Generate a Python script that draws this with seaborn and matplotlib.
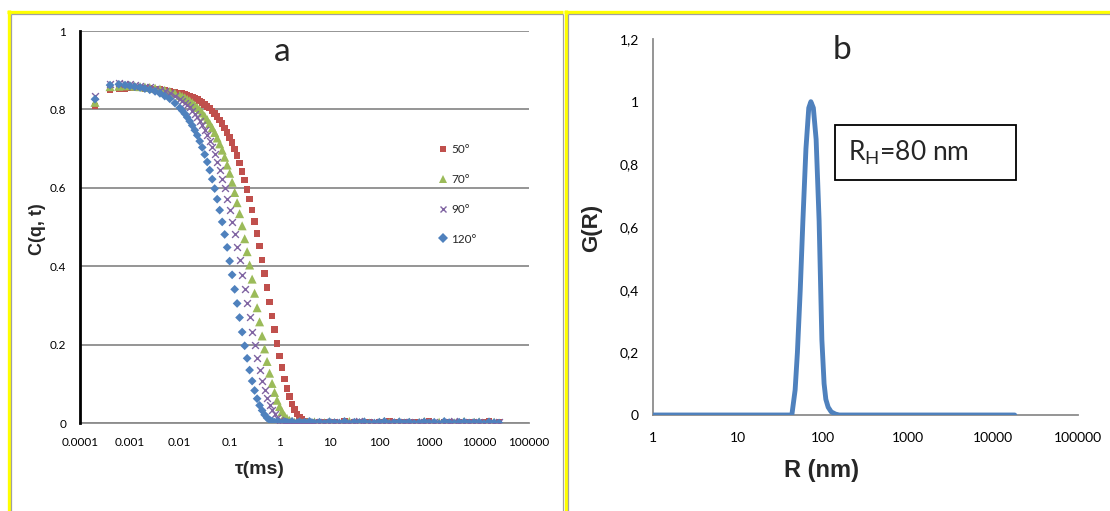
import matplotlib
matplotlib.use("Agg")
import matplotlib.pyplot as plt
from matplotlib.lines import Line2D
import numpy as np
import pandas as pd
import seaborn as sns

sns.set_theme(style="white")
plt.rcParams["font.family"] = ["Lato", "DejaVu Sans"]
plt.rcParams["mathtext.fontset"] = "custom"
plt.rcParams["mathtext.rm"] = "Lato"

BOLD_FAMILY = ["Liberation Sans", "DejaVu Sans"]

# ---- panel a: intensity correlation functions at four scattering angles ----
tau_ms = [
    0.0002, 0.0004, 0.0006, 0.0008, 0.001,
    0.00125, 0.0016, 0.002, 0.0025, 0.0032, 0.004, 0.005, 0.0063, 0.008, 0.01,
    0.0112, 0.0126, 0.0141, 0.0158, 0.0178, 0.02, 0.0224, 0.0251, 0.0282, 0.0316,
    0.0355, 0.0398, 0.0447, 0.0501, 0.0562, 0.0631, 0.0708, 0.0794, 0.0891, 0.1,
    0.112, 0.126, 0.141, 0.158, 0.178, 0.2, 0.224, 0.251, 0.282, 0.316,
    0.355, 0.398, 0.447, 0.501, 0.562, 0.631, 0.708, 0.794, 0.891, 1.0,
    1.12, 1.26, 1.41, 1.58, 1.78, 2.0, 2.24, 2.51, 2.82, 3.16, 3.55, 3.98, 4.47, 5.01,
    6.31, 7.94, 10, 12.6, 15.8, 20, 25.1, 31.6, 39.8, 50.1,
    63.1, 79.4, 100, 126, 158, 200, 251, 316, 398, 501,
    631, 794, 1000, 1260, 1580, 2000, 2510, 3160, 3980, 5010,
    6310, 7940, 10000, 12600, 15800, 20000, 25100,
]

c_50 = [
    0.809, 0.851, 0.852, 0.853, 0.854,
    0.854, 0.854, 0.853, 0.853, 0.852, 0.851, 0.849, 0.847, 0.845, 0.842,
    0.841, 0.839, 0.837, 0.834, 0.832, 0.829, 0.826, 0.822, 0.818, 0.813,
    0.808, 0.803, 0.796, 0.790, 0.782, 0.773, 0.764, 0.753, 0.741, 0.728,
    0.715, 0.699, 0.682, 0.663, 0.642, 0.620, 0.596, 0.571, 0.543, 0.514,
    0.483, 0.451, 0.416, 0.382, 0.346, 0.309, 0.273, 0.238, 0.203, 0.171,
    0.141, 0.112, 0.088, 0.067, 0.048, 0.034, 0.023, 0.015, 0.009, 0.005, 0.003, 0.001, 0.002, -0.001,
    0.001, 0.003, -0.002, 0.002, 0.000, 0.004, -0.001, 0.002, 0.001, -0.002,
    0.003, 0.000, 0.002, -0.001, 0.004, 0.001, -0.002, 0.002, 0.000, 0.003,
    -0.001, 0.002, 0.004, 0.000, -0.002, 0.001, 0.003, -0.001, 0.002, 0.000,
    0.003, 0.001, -0.002, 0.002, 0.004, 0.000, 0.001,
]

c_70 = [
    0.818, 0.858, 0.859, 0.860, 0.861,
    0.859, 0.858, 0.857, 0.856, 0.854, 0.852, 0.849, 0.846, 0.841, 0.836,
    0.833, 0.830, 0.826, 0.822, 0.817, 0.811, 0.805, 0.799, 0.791, 0.783,
    0.774, 0.764, 0.753, 0.741, 0.727, 0.712, 0.696, 0.678, 0.658, 0.637,
    0.614, 0.588, 0.562, 0.534, 0.503, 0.470, 0.437, 0.403, 0.367, 0.331,
    0.294, 0.258, 0.222, 0.189, 0.157, 0.127, 0.101, 0.078, 0.058, 0.042,
    0.029, 0.019, 0.012, 0.007, 0.004, 0.002, -0.001, 0.003, 0.000, -0.002, 0.002, 0.001, -0.001, 0.003,
    -0.002, 0.001, 0.003, 0.000, -0.001, 0.002, 0.004, -0.002, 0.001, 0.003,
    0.000, -0.002, 0.002, 0.004, 0.001, -0.001, 0.003, 0.000, 0.002, -0.002,
    0.001, 0.004, 0.000, -0.001, 0.002, 0.003, -0.002, 0.001, 0.000, 0.004,
    -0.001, 0.002, 0.003, -0.002, 0.001, 0.002, -0.001,
]

c_90 = [
    0.833, 0.866, 0.867, 0.865, 0.864,
    0.861, 0.860, 0.858, 0.856, 0.853, 0.850, 0.846, 0.841, 0.834, 0.827,
    0.822, 0.817, 0.811, 0.805, 0.797, 0.789, 0.780, 0.771, 0.760, 0.748,
    0.734, 0.720, 0.703, 0.686, 0.667, 0.646, 0.623, 0.599, 0.572, 0.544,
    0.514, 0.482, 0.449, 0.415, 0.378, 0.342, 0.306, 0.270, 0.233, 0.199,
    0.166, 0.136, 0.108, 0.084, 0.063, 0.046, 0.032, 0.022, 0.014, 0.008,
    0.005, 0.002, 0.000, 0.003, -0.001, 0.002, 0.001, -0.002, 0.003, 0.000, 0.002, -0.001, 0.001, 0.003,
    0.000, 0.002, -0.001, 0.003, 0.001, -0.002, 0.002, 0.000, 0.004, -0.001,
    0.001, 0.003, -0.002, 0.000, 0.002, 0.001, -0.001, 0.003, 0.002, 0.000,
    -0.002, 0.002, 0.001, 0.003, -0.001, 0.000, 0.002, 0.004, -0.002, 0.001,
    0.002, -0.001, 0.003, 0.000, 0.001, -0.002, 0.002,
]

c_120 = [
    0.826, 0.862, 0.864, 0.862, 0.860,
    0.858, 0.856, 0.853, 0.850, 0.846, 0.841, 0.834, 0.827, 0.816, 0.804,
    0.797, 0.789, 0.780, 0.770, 0.759, 0.747, 0.734, 0.719, 0.703, 0.685,
    0.666, 0.645, 0.622, 0.598, 0.571, 0.543, 0.513, 0.481, 0.448, 0.413,
    0.378, 0.341, 0.305, 0.269, 0.232, 0.197, 0.165, 0.135, 0.107, 0.083,
    0.062, 0.045, 0.032, 0.021, 0.013, 0.008, 0.005, 0.002, 0.004, 0.001,
    -0.001, 0.003, 0.002, 0.000, 0.004, -0.002, 0.001, 0.003, 0.000, 0.002, -0.001, 0.004, 0.001, 0.000,
    0.002, -0.001, 0.003, 0.001, 0.000, 0.004, -0.002, 0.002, 0.001, 0.003,
    -0.001, 0.000, 0.002, 0.004, -0.002, 0.001, 0.003, 0.000, 0.002, -0.001,
    0.001, 0.003, 0.000, 0.002, -0.002, 0.004, 0.001, -0.001, 0.002, 0.003,
    0.000, 0.001, 0.002, -0.002, 0.003, 0.001, 0.000,
]

angle_labels = ["50°", "70°", "90°", "120°"]
tau_ticks = [0.0001, 0.001, 0.01, 0.1, 1, 10, 100, 1000, 10000, 100000]
tau_tick_labels = ["0.0001", "0.001", "0.01", "0.1", "1", "10", "100", "1000", "10000", "100000"]
c_ticks = [0, 0.2, 0.4, 0.6, 0.8, 1]
c_tick_labels = ["0", "0.2", "0.4", "0.6", "0.8", "1"]

# ---- panel b: hydrodynamic radius distribution ----
radius_nm = [1, 3, 10, 30, 38, 43, 47, 50, 54, 58, 63, 68, 72, 77, 83, 90, 97,
             103, 108, 115, 125, 140, 155, 200, 500, 1000, 3000, 10000, 18000]
g_r = [0, 0, 0, 0, 0, 0, 0.08, 0.20, 0.40, 0.62, 0.85, 0.98, 1.0, 0.98, 0.88, 0.62, 0.24,
       0.10, 0.05, 0.025, 0.01, 0.003, 0, 0, 0, 0, 0, 0, 0]
r_ticks = [1, 10, 100, 1000, 10000, 100000]
r_tick_labels = ["1", "10", "100", "1000", "10000", "100000"]
g_ticks = [0, 0.2, 0.4, 0.6, 0.8, 1, 1.2]
g_tick_labels = ["0", "0,2", "0,4", "0,6", "0,8", "1", "1,2"]

W, H = 1110, 511
fig = plt.figure(figsize=(W / 100, H / 100), dpi=100)
fig.patch.set_facecolor("white")


def fx(px):
    return px / W


def fy(py):
    return 1 - py / H


def frame_line(x0, y0, x1, y1, color, lw):
    fig.add_artist(Line2D([fx(x0), fx(x1)], [fy(y0), fy(y1)], transform=fig.transFigure,
                          color=color, linewidth=lw, solid_capstyle="butt", zorder=0))


YELLOW = "#FFFF00"
FRAME_GRAY = "#A0A0A0"
# left panel frame
frame_line(7, 11.8, 563, 11.8, YELLOW, 2.4)
frame_line(8.8, 10.5, 8.8, 520, YELLOW, 2.4)
frame_line(10.5, 14.3, 563, 14.3, FRAME_GRAY, 0.9)
frame_line(11.3, 14.3, 11.3, 520, FRAME_GRAY, 0.9)
frame_line(563, 14.3, 563, 520, FRAME_GRAY, 0.9)
# right panel frame
frame_line(564, 11.8, 1120, 11.8, YELLOW, 2.4)
frame_line(565.8, 10.5, 565.8, 520, YELLOW, 2.4)
frame_line(567.5, 14.3, 1120, 14.3, FRAME_GRAY, 0.9)
frame_line(568.2, 14.3, 568.2, 520, FRAME_GRAY, 0.9)

grid_gray = "#8C8C8C"
axis_gray = "#8C8C8C"

# ---- left axes ----
axa = fig.add_axes([fx(80), fy(423), fx(529 - 80), (423 - 31) / H])
styles = [
    ("#C0504D", "s", 22, 0),
    ("#9BBB59", "^", 42, 0),
    ("#8064A2", "x", 24, 1.0),
    ("#4F81BD", "D", 20, 0),
]
series = [c_50, c_70, c_90, c_120]
for vals, (col, mk, sz, lw), lab in zip(series, styles, angle_labels):
    df = pd.DataFrame({"tau": tau_ms, "c": vals})
    sns.scatterplot(data=df, x="tau", y="c", ax=axa, color=col, marker=mk,
                    s=sz, linewidth=lw, edgecolor=col if mk == "x" else "none",
                    zorder=3, legend=False)

axa.set_xscale("log")
axa.set_xlim(1e-4, 1e5)
axa.set_ylim(0, 1)
axa.set_xticks(tau_ticks)
axa.set_xticklabels(tau_tick_labels)
axa.xaxis.set_minor_locator(matplotlib.ticker.NullLocator())
axa.set_yticks(c_ticks)
axa.set_yticklabels(c_tick_labels)
axa.set_xlabel("")
axa.set_ylabel("")
axa.yaxis.grid(True, color=grid_gray, linewidth=1.3)
axa.xaxis.grid(False)
axa.set_axisbelow(True)
for s in ["top", "right"]:
    axa.spines[s].set_visible(False)
axa.spines["left"].set_color("black")
axa.spines["left"].set_linewidth(2.0)
axa.spines["left"].set_zorder(4)
axa.spines["bottom"].set_color(axis_gray)
axa.spines["bottom"].set_linewidth(1.3)
axa.tick_params(axis="x", length=4, width=1, color=axis_gray, direction="out",
                labelsize=8.5, pad=6, labelcolor="black")
axa.tick_params(axis="y", length=0, labelsize=8.5, pad=10, labelcolor="black")
axa.patch.set_alpha(0)

handles = [Line2D([], [], linestyle="none", marker=mk, color=col, markersize=5 if mk != "^" else 6,
                  markeredgewidth=lw if mk == "x" else 0)
           for col, mk, sz, lw in styles]
axa.legend(handles, angle_labels, loc="upper left", bbox_to_anchor=(fx(432), fy(138)),
           bbox_transform=fig.transFigure, frameon=False, fontsize=8.5,
           labelspacing=1.6, handlelength=0.8, handletextpad=0.3, borderpad=0)

fig.text(fx(282), fy(52), "a", ha="center", va="center", fontsize=24)
fig.text(fx(38), fy(229), "C(q, t)", ha="center", va="center", rotation=90,
         fontsize=13, fontweight="bold", family=BOLD_FAMILY)
fig.text(fx(260), fy(470), "τ(ms)", ha="center", va="center", fontsize=14,
         fontweight="bold", family=BOLD_FAMILY)

# ---- right axes ----
axb = fig.add_axes([fx(653), fy(415), fx(1078 - 653), (415 - 39) / H])
dfb = pd.DataFrame({"R": radius_nm, "G": g_r})
sns.lineplot(data=dfb, x="R", y="G", ax=axb, color="#4F81BD", linewidth=3.5,
             solid_capstyle="round", solid_joinstyle="round", zorder=3)
axb.set_xscale("log")
axb.set_xlim(1, 1e5)
axb.set_ylim(0, 1.2)
axb.set_xticks(r_ticks)
axb.set_xticklabels(r_tick_labels)
axb.xaxis.set_minor_locator(matplotlib.ticker.NullLocator())
axb.set_yticks(g_ticks)
axb.set_yticklabels(g_tick_labels)
axb.set_xlabel("")
axb.set_ylabel("")
axb.grid(False)
for s in ["top", "right"]:
    axb.spines[s].set_visible(False)
for s in ["left", "bottom"]:
    axb.spines[s].set_color(axis_gray)
    axb.spines[s].set_linewidth(1.3)
axb.tick_params(axis="both", length=4, width=1, color=axis_gray, direction="out",
                labelsize=10, labelcolor="black")
axb.tick_params(axis="x", pad=8)
axb.tick_params(axis="y", pad=6)
axb.patch.set_alpha(0)

fig.text(fx(842), fy(50), "b", ha="center", va="center", fontsize=24)
fig.text(fx(592), fy(228), "G(R)", ha="center", va="center", rotation=90,
         fontsize=16, fontweight="bold", family=BOLD_FAMILY)
fig.text(fx(821), fy(470), "R (nm)", ha="center", va="center", fontsize=17,
         fontweight="bold", family=BOLD_FAMILY)

fig.add_artist(matplotlib.patches.Rectangle(
    (fx(835), fy(180)), fx(1016 - 835), (180 - 125) / H,
    transform=fig.transFigure, fill=False, edgecolor="black", linewidth=1.3, zorder=5))
fig.text(fx(848), fy(153), r"R$_\mathregular{H}$=80 nm", ha="left", va="center",
         fontsize=19, zorder=6)

fig.savefig("out.png", dpi=100, facecolor="white")
